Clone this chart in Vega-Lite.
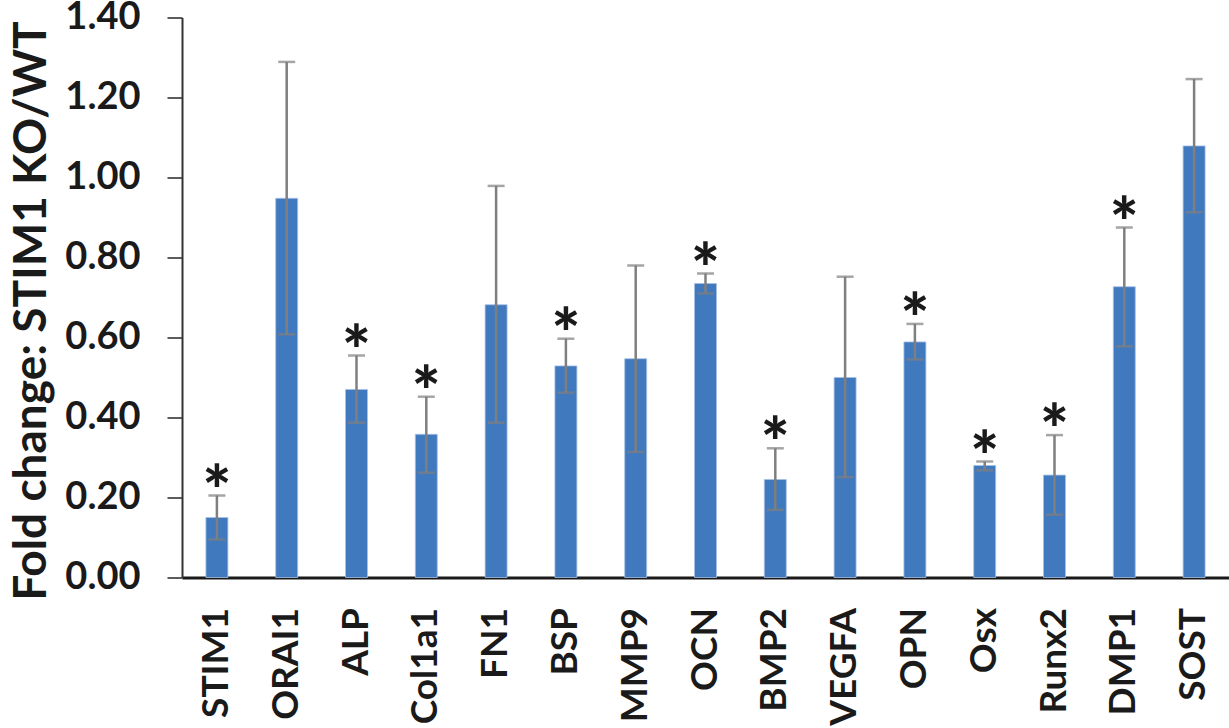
{
  "$schema": "https://vega.github.io/schema/vega-lite/v6.json",
  "width": 1047,
  "height": 560,
  "autosize": {"type": "none"},
  "padding": {"left": 182, "top": 17.5, "right": 0, "bottom": 150.5},
  "background": "white",
  "config": {
    "view": {"stroke": null},
    "font": "Lato",
    "axis": {"grid": false}
  },
  "data": {
    "values": [
      {"gene": "STIM1", "value": 0.15, "lo": 0.095, "hi": 0.205, "sig": "*"},
      {"gene": "ORAI1", "value": 0.948, "lo": 0.608, "hi": 1.289, "sig": ""},
      {"gene": "ALP", "value": 0.47, "lo": 0.387, "hi": 0.555, "sig": "*"},
      {"gene": "Col1a1", "value": 0.358, "lo": 0.262, "hi": 0.452, "sig": "*"},
      {"gene": "FN1", "value": 0.682, "lo": 0.387, "hi": 0.979, "sig": ""},
      {"gene": "BSP", "value": 0.529, "lo": 0.462, "hi": 0.597, "sig": "*"},
      {"gene": "MMP9", "value": 0.547, "lo": 0.314, "hi": 0.78, "sig": ""},
      {"gene": "OCN", "value": 0.735, "lo": 0.71, "hi": 0.76, "sig": "*"},
      {"gene": "BMP2", "value": 0.245, "lo": 0.169, "hi": 0.323, "sig": "*"},
      {"gene": "VEGFA", "value": 0.5, "lo": 0.251, "hi": 0.752, "sig": ""},
      {"gene": "OPN", "value": 0.589, "lo": 0.545, "hi": 0.634, "sig": "*"},
      {"gene": "Osx", "value": 0.28, "lo": 0.268, "hi": 0.29, "sig": "*"},
      {"gene": "Runx2", "value": 0.256, "lo": 0.157, "hi": 0.356, "sig": "*"},
      {"gene": "DMP1", "value": 0.727, "lo": 0.578, "hi": 0.875, "sig": "*"},
      {"gene": "SOST", "value": 1.079, "lo": 0.913, "hi": 1.246, "sig": ""}
    ]
  },
  "encoding": {
    "x": {
      "field": "gene",
      "type": "nominal",
      "sort": null,
      "scale": {"paddingInner": 0.685, "paddingOuter": 0.3425},
      "axis": {
        "title": null,
        "labelAngle": -90,
        "labelAlign": "right",
        "labelBaseline": "middle",
        "labelFont": "Lato",
        "labelFontWeight": "bold",
        "labelFontSize": 37,
        "labelColor": "#1a1a1a",
        "labelPadding": 30,
        "ticks": false,
        "tickSize": 0,
        "domainColor": "#1a1a1a",
        "domainWidth": 3
      }
    }
  },
  "layer": [
    {
      "mark": {"type": "bar", "color": "#4179BE", "stroke": "#a8c2e6", "strokeWidth": 0.8},
      "encoding": {
        "y": {
          "field": "value",
          "type": "quantitative",
          "scale": {"domain": [0, 1.4], "nice": false},
          "axis": {
            "values": [0, 0.2, 0.4, 0.6, 0.8, 1.0, 1.2, 1.4],
            "format": ".2f",
            "title": "Fold change: STIM1 KO/WT",
            "titleFont": "Lato",
            "titleFontWeight": "bold",
            "titleFontSize": 46,
            "titleColor": "#1a1a1a",
            "titlePadding": 9,
            "titleY": 293,
            "labelFont": "Lato",
            "labelFontWeight": "bold",
            "labelFontSize": 38,
            "labelColor": "#1a1a1a",
            "labelPadding": 27,
            "tickSize": 15,
            "tickColor": "#262626",
            "tickWidth": 1.5,
            "domainColor": "#333333",
            "domainWidth": 2
          }
        }
      }
    },
    {
      "mark": {"type": "rule", "color": "#7f7f7f", "strokeWidth": 2.5},
      "encoding": {
        "y": {"field": "lo", "type": "quantitative"},
        "y2": {"field": "hi"}
      }
    },
    {
      "mark": {"type": "tick", "color": "#7f7f7f", "size": 17, "thickness": 2.5},
      "encoding": {"y": {"field": "lo", "type": "quantitative"}}
    },
    {
      "mark": {"type": "tick", "color": "#7f7f7f", "size": 17, "thickness": 2.5},
      "encoding": {"y": {"field": "hi", "type": "quantitative"}}
    },
    {
      "mark": {"type": "text", "font": "Lato", "fontWeight": 900, "fontSize": 68, "color": "#1a1a1a", "baseline": "alphabetic", "align": "center", "dy": 19},
      "encoding": {
        "y": {"field": "hi", "type": "quantitative"},
        "text": {"field": "sig"}
      }
    }
  ]
}
